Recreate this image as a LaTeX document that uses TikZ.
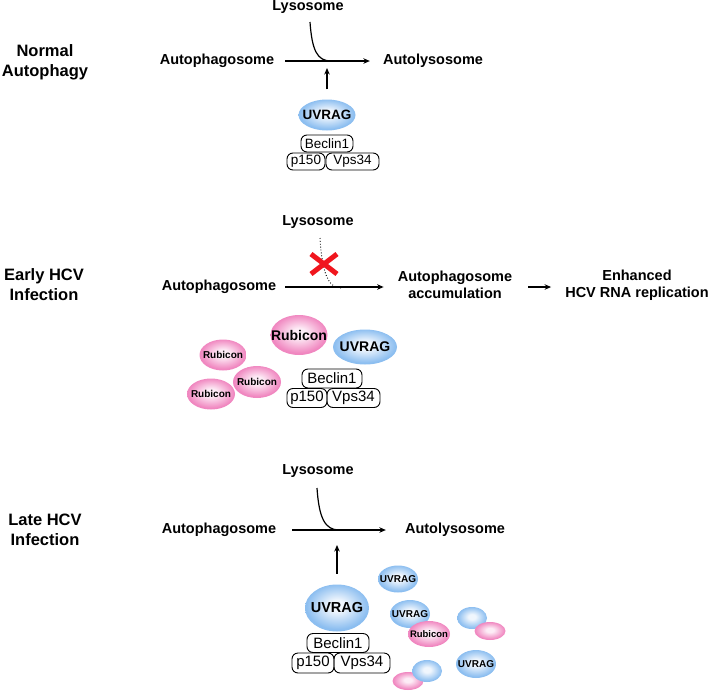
\documentclass[tikz,border=0pt]{standalone}
\usepackage{fontspec}
\setmainfont{Liberation Sans}
\usetikzlibrary{shapes.geometric,arrows.meta}
\definecolor{bOut}{RGB}{140,190,240}
\definecolor{bIn}{RGB}{240,246,253}
\definecolor{pOut}{RGB}{240,135,192}
\definecolor{pIn}{RGB}{253,236,246}
\definecolor{xred}{RGB}{240,22,30}
\pgfdeclareradialshading{bbub}{\pgfpoint{0bp}{3bp}}{color(0bp)=(bIn); color(6bp)=(bIn); color(24bp)=(bOut); color(25bp)=(bOut); color(50bp)=(bOut)}
\pgfdeclareradialshading{pbub}{\pgfpoint{0bp}{3bp}}{color(0bp)=(pIn); color(6bp)=(pIn); color(24bp)=(pOut); color(25bp)=(pOut); color(50bp)=(pOut)}
\begin{document}
\begin{tikzpicture}[x=1pt,y=-1pt,
  lbl/.style={font=\bfseries\fontsize{14.5}{16.5}\selectfont, inner sep=0, align=center},
  ttl/.style={font=\bfseries\fontsize{16.5}{20}\selectfont, inner sep=0, align=center},
  btext/.style={font=\bfseries\fontsize{#1}{#1}\selectfont, inner sep=0},
  pbox/.style={draw, rounded corners=6, inner sep=0, line width=0.9, font=\fontsize{#1}{#1}\selectfont},
  arr/.style={line width=1.2, -{Stealth[length=6.5,width=5.5]}},
  lcurve/.style={line width=1.2},
  bub/.style={ellipse, inner sep=0, draw=none},
  bl/.style={bub, shading=bbub},
  pk/.style={bub, shading=pbub}]
\useasboundingbox (0,0) rectangle (710,691);

% ---------- Panel 1 ----------
\node[ttl] (t1) at (45,62) {Normal\\Autophagy};
\node[lbl] (lys1) at (308,7) {Lysosome};
\node[lbl] (ap1) at (217,61) {Autophagosome};
\node[lbl] (al1) at (433,61) {Autolysosome};
\draw[arr, shorten <=11, shorten >=13] (ap1.east) -- (al1.west);
\coordinate (ls1) at (310,22);
\coordinate (j1) at (331,61);
\draw[lcurve] (ls1) .. controls (312,50) and (317,61) .. (j1);
\node[bl, minimum width=57, minimum height=31, label={[btext=13.5]center:UVRAG}] (uv1) at (327,115) {};
\node[pbox=13.5, minimum width=52, minimum height=17] (be1) at (327,143.5) {Beclin1};
\node[pbox=13.5, minimum width=38, minimum height=17] (pa1) at (306,161.5) {p150};
\node[pbox=13.5, minimum width=53, minimum height=17] (va1) at (352.5,161.5) {Vps34};
\draw[arr, shorten <=10, shorten >=7] (uv1.north) -- (uv1.north |- ap1);

% ---------- Panel 2 ----------
\node[ttl] (t2) at (44,285) {Early HCV\\Infection};
\node[lbl] (lys2) at (318,222) {Lysosome};
\node[lbl] (ap2) at (219,287) {Autophagosome};
\node[lbl] (acc) at (455,285) {Autophagosome\\accumulation};
\node[lbl] (enh) at (637,285) {Enhanced\\HCV RNA replication};
\draw[arr, shorten <=9, shorten >=14] (ap2.east) -- (ap2.east -| acc.west);
\draw[arr, shorten <=16, shorten >=14] (acc.east |- ap2.east) -- (enh.west |- ap2.east);
\coordinate (ls2) at (320,238);
\coordinate (j2) at (341,288);
\draw[line width=0.9, dotted] (ls2) .. controls (322,272) and (328,288) .. (j2);
\draw[xred, line width=5] (311,254) -- (337,274) (337,254) -- (311,274);
\node[pk, minimum width=57, minimum height=40, label={[btext=14]center:Rubicon}] (rb2) at (299,335) {};
\node[bl, minimum width=64, minimum height=35, label={[btext=14]center:UVRAG}] (uv2) at (365,347) {};
\node[pbox=15, minimum width=60, minimum height=19] (be2) at (332,378.5) {Beclin1};
\node[pbox=15, minimum width=40, minimum height=19] (pa2) at (307,398) {p150};
\node[pbox=15, minimum width=53, minimum height=19] (va2) at (353.5,398) {Vps34};
\node[pk, minimum width=47, minimum height=31, label={[btext=10]center:Rubicon}] (rs1) at (223,355) {};
\node[pk, minimum width=48, minimum height=32, label={[btext=10]center:Rubicon}] (rs2) at (257,382) {};
\node[pk, minimum width=48, minimum height=31, label={[btext=10]center:Rubicon}] (rs3) at (211,394) {};

% ---------- Panel 3 ----------
\node[ttl] (t3) at (45,530) {Late HCV\\Infection};
\node[lbl] (lys3) at (318,471) {Lysosome};
\node[lbl] (ap3) at (219,530) {Autophagosome};
\node[lbl] (al3) at (455,530) {Autolysosome};
\draw[arr, shorten <=16, shorten >=19] (ap3.east) -- (al3.west);
\coordinate (ls3) at (317,488);
\coordinate (j3) at (339,530);
\draw[lcurve] (ls3) .. controls (319,518) and (325,530) .. (j3);
\node[bl, minimum width=64, minimum height=47, label={[btext=14.5]center:UVRAG}] (uv3) at (337,608) {};
\node[pbox=15, minimum width=62, minimum height=19] (be3) at (338,643) {Beclin1};
\node[pbox=15, minimum width=42, minimum height=20] (pa3) at (313,663) {p150};
\node[pbox=15, minimum width=56, minimum height=20] (va3) at (362,663) {Vps34};
\draw[arr, shorten <=10.5, shorten >=15] (uv3.north) -- (uv3.north |- ap3);
\node[bl, minimum width=40, minimum height=27, label={[btext=10]center:UVRAG}] (us1) at (398,579) {};
\node[bl, minimum width=40, minimum height=28, label={[btext=10]center:UVRAG}] (us2) at (410,614) {};
\node[pk, minimum width=42, minimum height=26, label={[btext=9.5]center:Rubicon}] (rs4) at (429,634) {};
\node[bl, minimum width=30, minimum height=22] (eb1) at (472,618) {};
\node[pk, minimum width=31, minimum height=18] (ep1) at (490,631) {};
\node[bl, minimum width=40, minimum height=28, label={[btext=10]center:UVRAG}] (us3) at (476,664) {};
\node[pk, minimum width=31, minimum height=18] (ep2) at (408,681) {};
\node[bl, minimum width=30, minimum height=22] (eb2) at (427,671) {};
\end{tikzpicture}
\end{document}
